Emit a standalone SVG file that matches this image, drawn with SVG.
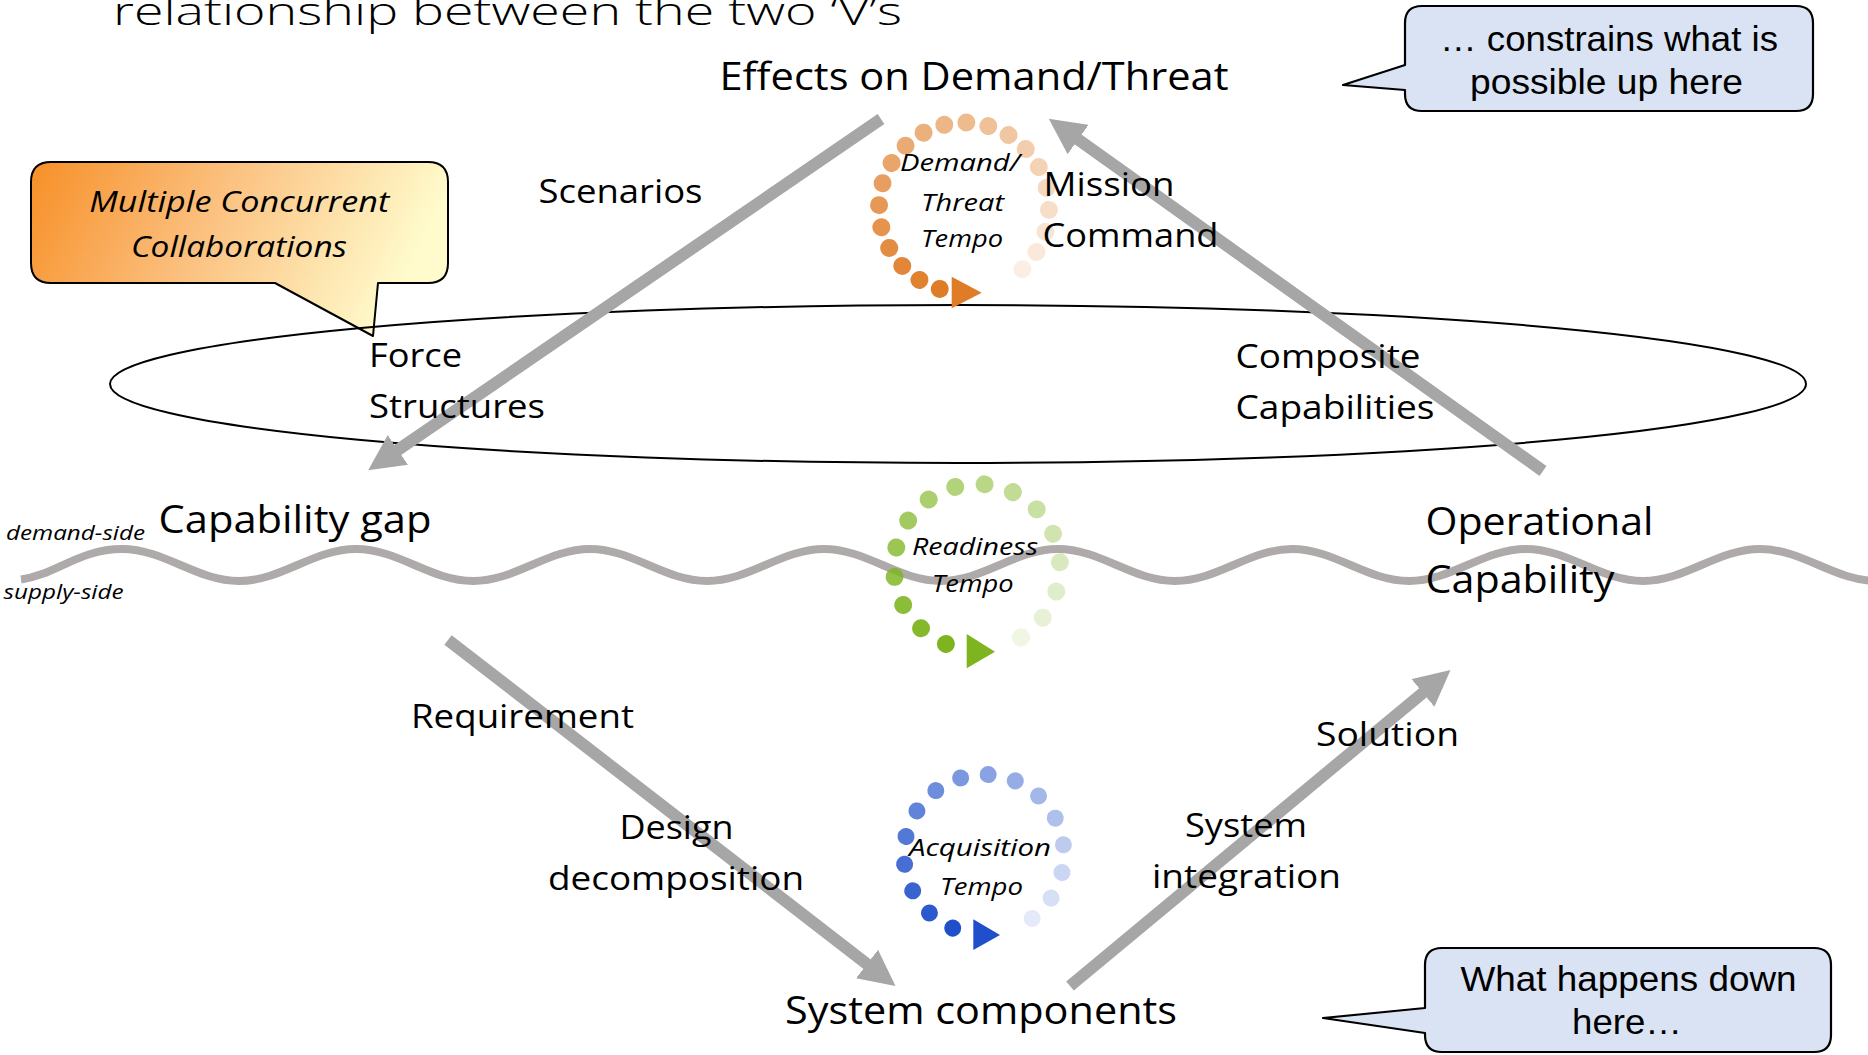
<svg xmlns="http://www.w3.org/2000/svg" width="1868" height="1055" viewBox="0 0 1868 1055">
  <defs>
    <style>
      .lbl { font-family: "Open Sans", "Noto Sans", sans-serif; fill: #000; }
      .a { font-size: 33px; }
      .b { font-size: 38px; }
      .it { font-style: italic; }
      .tempo { font-family: "Open Sans", "Noto Sans", sans-serif; font-style: italic; font-size: 24.5px; fill: #000; }
      .side { font-family: "Open Sans", "Noto Sans", sans-serif; font-style: italic; font-size: 20.5px; fill: #000; }
      .note { font-family: "Liberation Sans", Arial, sans-serif; font-size: 35px; fill: #000; text-anchor: middle; }
      .bubble { fill: #dae3f3; stroke: #000; stroke-width: 2.2; stroke-linejoin: round; }
      .conn { fill: none; stroke: #a6a6a6; stroke-width: 12; marker-end: url(#ah); }
    </style>
    <marker id="ah" viewBox="0 0 3 3" refX="0.05" refY="1.5" markerWidth="3" markerHeight="3" orient="auto" markerUnits="strokeWidth">
      <path d="M0,0 L3,1.5 L0,3 Z" fill="#a6a6a6"/>
    </marker>
    <linearGradient id="fire" gradientUnits="userSpaceOnUse" x1="40" y1="165" x2="380" y2="330">
      <stop offset="0" stop-color="#f7922c"/>
      <stop offset="0.45" stop-color="#fbbf7d"/>
      <stop offset="1" stop-color="#fffbcc"/>
    </linearGradient>
  </defs>

  <!-- heading, partly above the top edge -->
  <text x="113" y="25" class="lbl" font-weight="300" font-size="39" textLength="789" lengthAdjust="spacingAndGlyphs">relationship between the two ‘V’s</text>

  <!-- collaboration callout -->
  <g id="collab-callout">
    <path d="M51,162 H428 Q448,162 448,182 V263 Q448,283 428,283 H378 L373,336 L275,283 H51 Q31,283 31,263 V182 Q31,162 51,162 Z" fill="url(#fire)" stroke="#000" stroke-width="2" stroke-linejoin="round"/>
    <text x="239.3" y="212.3" class="lbl it" font-size="28.5" text-anchor="middle" textLength="300" lengthAdjust="spacingAndGlyphs">Multiple Concurrent</text>
    <text x="239" y="256.7" class="lbl it" font-size="28.5" text-anchor="middle" textLength="216" lengthAdjust="spacingAndGlyphs">Collaborations</text>
  </g>

  <!-- collaboration ring -->
  <g id="ring">
    <ellipse cx="958" cy="384" rx="848" ry="79" fill="none" stroke="#000" stroke-width="2"/>
  </g>

  <!-- demand / supply boundary -->
  <g id="boundary">
    <path d="M21,579.5 C55,575 79.5,549 122,549 S196.5,581 239,581 S313.5,549 356,549 S430.5,581 473,581 S547.5,549 590,549 S664.5,581 707,581 S781.5,549 824,549 S898.5,581 941,581 S1015.5,549 1058,549 S1132.5,581 1175,581 S1249.5,549 1292,549 S1366.5,581 1409,581 S1483.5,549 1526,549 S1600.5,581 1643,581 S1717.5,549 1760,549 S1834.5,581 1877,581" fill="none" stroke="#aeaaaa" stroke-width="8"/>
    <text x="6" y="539.5" class="side" textLength="139" lengthAdjust="spacingAndGlyphs">demand-side</text>
    <text x="3.6" y="599" class="side" textLength="120" lengthAdjust="spacingAndGlyphs">supply-side</text>
  </g>

  <!-- demand/threat tempo spinner -->
  <g id="tempo-demand" fill="#df7c27">
    <circle cx="1049" cy="207.5" r="9" transform="rotate(106.6 964 207.5)"/>
    <circle cx="1049" cy="207.5" r="9" transform="rotate(121.6 964 207.5)" fill-opacity="0.956"/>
    <circle cx="1049" cy="207.5" r="9" transform="rotate(136.6 964 207.5)" fill-opacity="0.912"/>
    <circle cx="1049" cy="207.5" r="9" transform="rotate(151.6 964 207.5)" fill-opacity="0.868"/>
    <circle cx="1049" cy="207.5" r="9" transform="rotate(166.6 964 207.5)" fill-opacity="0.824"/>
    <circle cx="1049" cy="207.5" r="9" transform="rotate(181.6 964 207.5)" fill-opacity="0.78"/>
    <circle cx="1049" cy="207.5" r="9" transform="rotate(196.6 964 207.5)" fill-opacity="0.736"/>
    <circle cx="1049" cy="207.5" r="9" transform="rotate(211.6 964 207.5)" fill-opacity="0.692"/>
    <circle cx="1049" cy="207.5" r="9" transform="rotate(226.6 964 207.5)" fill-opacity="0.648"/>
    <circle cx="1049" cy="207.5" r="9" transform="rotate(241.6 964 207.5)" fill-opacity="0.604"/>
    <circle cx="1049" cy="207.5" r="9" transform="rotate(256.6 964 207.5)" fill-opacity="0.56"/>
    <circle cx="1049" cy="207.5" r="9" transform="rotate(271.6 964 207.5)" fill-opacity="0.516"/>
    <circle cx="1049" cy="207.5" r="9" transform="rotate(286.6 964 207.5)" fill-opacity="0.472"/>
    <circle cx="1049" cy="207.5" r="9" transform="rotate(301.6 964 207.5)" fill-opacity="0.428"/>
    <circle cx="1049" cy="207.5" r="9" transform="rotate(316.6 964 207.5)" fill-opacity="0.384"/>
    <circle cx="1049" cy="207.5" r="9" transform="rotate(331.6 964 207.5)" fill-opacity="0.34"/>
    <circle cx="1049" cy="207.5" r="9" transform="rotate(346.6 964 207.5)" fill-opacity="0.296"/>
    <circle cx="1049" cy="207.5" r="9" transform="rotate(361.6 964 207.5)" fill-opacity="0.252"/>
    <circle cx="1049" cy="207.5" r="9" transform="rotate(376.6 964 207.5)" fill-opacity="0.208"/>
    <circle cx="1049" cy="207.5" r="9" transform="rotate(391.6 964 207.5)" fill-opacity="0.164"/>
    <circle cx="1049" cy="207.5" r="9" transform="rotate(406.6 964 207.5)" fill-opacity="0.12"/>
    <path d="M951.7,276.7 L981.7,292.7 L951.7,308.3 Z"/>
    <text x="900" y="170.5" class="tempo" textLength="120" lengthAdjust="spacingAndGlyphs">Demand/</text>
    <text x="921" y="210.7" class="tempo" textLength="83" lengthAdjust="spacingAndGlyphs">Threat</text>
    <text x="921" y="246.7" class="tempo" textLength="82" lengthAdjust="spacingAndGlyphs">Tempo</text>
  </g>

  <!-- readiness tempo spinner -->
  <g id="tempo-readiness" fill="#7db41f">
    <circle cx="1060" cy="567" r="9" transform="rotate(112 977 567)"/>
    <circle cx="1060" cy="567" r="9" transform="rotate(132.4 977 567)" fill-opacity="0.941"/>
    <circle cx="1060" cy="567" r="9" transform="rotate(152.8 977 567)" fill-opacity="0.883"/>
    <circle cx="1060" cy="567" r="9" transform="rotate(173.2 977 567)" fill-opacity="0.824"/>
    <circle cx="1060" cy="567" r="9" transform="rotate(193.6 977 567)" fill-opacity="0.765"/>
    <circle cx="1060" cy="567" r="9" transform="rotate(214 977 567)" fill-opacity="0.707"/>
    <circle cx="1060" cy="567" r="9" transform="rotate(234.4 977 567)" fill-opacity="0.648"/>
    <circle cx="1060" cy="567" r="9" transform="rotate(254.8 977 567)" fill-opacity="0.589"/>
    <circle cx="1060" cy="567" r="9" transform="rotate(275.2 977 567)" fill-opacity="0.531"/>
    <circle cx="1060" cy="567" r="9" transform="rotate(295.6 977 567)" fill-opacity="0.472"/>
    <circle cx="1060" cy="567" r="9" transform="rotate(316 977 567)" fill-opacity="0.413"/>
    <circle cx="1060" cy="567" r="9" transform="rotate(336.4 977 567)" fill-opacity="0.355"/>
    <circle cx="1060" cy="567" r="9" transform="rotate(356.8 977 567)" fill-opacity="0.296"/>
    <circle cx="1060" cy="567" r="9" transform="rotate(377.2 977 567)" fill-opacity="0.237"/>
    <circle cx="1060" cy="567" r="9" transform="rotate(397.6 977 567)" fill-opacity="0.179"/>
    <circle cx="1060" cy="567" r="9" transform="rotate(418 977 567)" fill-opacity="0.12"/>
    <path d="M966.7,634 L995,651.7 L966.7,668.3 Z"/>
    <text x="912" y="555" class="tempo" textLength="126" lengthAdjust="spacingAndGlyphs">Readiness</text>
    <text x="931.7" y="591.7" class="tempo" textLength="82" lengthAdjust="spacingAndGlyphs">Tempo</text>
  </g>

  <!-- acquisition tempo spinner -->
  <g id="tempo-acquisition" fill="#1f4fca">
    <circle cx="1064" cy="854.5" r="8.5" transform="rotate(113 984 854.5)"/>
    <circle cx="1064" cy="854.5" r="8.5" transform="rotate(133 984 854.5)" fill-opacity="0.941"/>
    <circle cx="1064" cy="854.5" r="8.5" transform="rotate(153 984 854.5)" fill-opacity="0.883"/>
    <circle cx="1064" cy="854.5" r="8.5" transform="rotate(173 984 854.5)" fill-opacity="0.824"/>
    <circle cx="1064" cy="854.5" r="8.5" transform="rotate(193 984 854.5)" fill-opacity="0.765"/>
    <circle cx="1064" cy="854.5" r="8.5" transform="rotate(213 984 854.5)" fill-opacity="0.707"/>
    <circle cx="1064" cy="854.5" r="8.5" transform="rotate(233 984 854.5)" fill-opacity="0.648"/>
    <circle cx="1064" cy="854.5" r="8.5" transform="rotate(253 984 854.5)" fill-opacity="0.589"/>
    <circle cx="1064" cy="854.5" r="8.5" transform="rotate(273 984 854.5)" fill-opacity="0.531"/>
    <circle cx="1064" cy="854.5" r="8.5" transform="rotate(293 984 854.5)" fill-opacity="0.472"/>
    <circle cx="1064" cy="854.5" r="8.5" transform="rotate(313 984 854.5)" fill-opacity="0.413"/>
    <circle cx="1064" cy="854.5" r="8.5" transform="rotate(333 984 854.5)" fill-opacity="0.355"/>
    <circle cx="1064" cy="854.5" r="8.5" transform="rotate(353 984 854.5)" fill-opacity="0.296"/>
    <circle cx="1064" cy="854.5" r="8.5" transform="rotate(373 984 854.5)" fill-opacity="0.237"/>
    <circle cx="1064" cy="854.5" r="8.5" transform="rotate(393 984 854.5)" fill-opacity="0.179"/>
    <circle cx="1064" cy="854.5" r="8.5" transform="rotate(413 984 854.5)" fill-opacity="0.12"/>
    <path d="M973.3,919.3 L1000,935 L973.3,950 Z"/>
    <text x="909" y="856" class="tempo" textLength="142" lengthAdjust="spacingAndGlyphs">Acquisition</text>
    <text x="940" y="895" class="tempo" textLength="83" lengthAdjust="spacingAndGlyphs">Tempo</text>
  </g>

  <!-- V-model arrows -->
  <g id="connectors">
    <path class="conn" d="M881,119 L397.4,450.3"/>
    <path class="conn" d="M1543,471 L1077.6,139.2"/>
    <path class="conn" d="M448,640 L867.5,964.4"/>
    <path class="conn" d="M1070,986 L1423.3,692.5"/>
  </g>

  <g id="effects"><text x="719.5" y="90" class="lbl b" textLength="509" lengthAdjust="spacingAndGlyphs">Effects on Demand/Threat</text></g>
  <g id="scenarios"><text x="538.5" y="203" class="lbl a" textLength="164" lengthAdjust="spacingAndGlyphs">Scenarios</text></g>
  <g id="mission-command">
    <text x="1043.6" y="195.5" class="lbl a" textLength="131" lengthAdjust="spacingAndGlyphs">Mission</text>
    <text x="1042.5" y="246.7" class="lbl a" textLength="176" lengthAdjust="spacingAndGlyphs">Command</text>
  </g>
  <g id="force-structures">
    <text x="369" y="367" class="lbl a" textLength="93" lengthAdjust="spacingAndGlyphs">Force</text>
    <text x="369" y="418" class="lbl a" textLength="176" lengthAdjust="spacingAndGlyphs">Structures</text>
  </g>
  <g id="composite-capabilities">
    <text x="1235.5" y="368" class="lbl a" textLength="185" lengthAdjust="spacingAndGlyphs">Composite</text>
    <text x="1235.5" y="419" class="lbl a" textLength="199" lengthAdjust="spacingAndGlyphs">Capabilities</text>
  </g>
  <g id="capability-gap"><text x="158.5" y="532.5" class="lbl b" textLength="273" lengthAdjust="spacingAndGlyphs">Capability gap</text></g>
  <g id="operational-capability">
    <text x="1425.5" y="535" class="lbl b" textLength="228" lengthAdjust="spacingAndGlyphs">Operational</text>
    <text x="1425.5" y="592.5" class="lbl b" textLength="189" lengthAdjust="spacingAndGlyphs">Capability</text>
  </g>
  <g id="requirement"><text x="411" y="728" class="lbl a" textLength="223" lengthAdjust="spacingAndGlyphs">Requirement</text></g>
  <g id="design-decomposition">
    <text x="619.5" y="838.5" class="lbl a" textLength="114" lengthAdjust="spacingAndGlyphs">Design</text>
    <text x="548" y="889.5" class="lbl a" textLength="256" lengthAdjust="spacingAndGlyphs">decomposition</text>
  </g>
  <g id="system-integration">
    <text x="1185" y="837" class="lbl a" textLength="122" lengthAdjust="spacingAndGlyphs">System</text>
    <text x="1152" y="887.5" class="lbl a" textLength="189" lengthAdjust="spacingAndGlyphs">integration</text>
  </g>
  <g id="solution"><text x="1316" y="745.5" class="lbl a" textLength="143" lengthAdjust="spacingAndGlyphs">Solution</text></g>
  <g id="system-components"><text x="785" y="1024" class="lbl b" textLength="392" lengthAdjust="spacingAndGlyphs">System components</text></g>

  <!-- explanatory bubbles -->
  <g id="note-up">
    <path class="bubble" d="M1422,6 H1796 Q1813,6 1813,23 V94 Q1813,111 1796,111 H1422 Q1405,111 1405,94 V90 L1343,85 L1405,65 V23 Q1405,6 1422,6 Z"/>
    <text x="1609" y="50.5" class="note" textLength="338" lengthAdjust="spacingAndGlyphs">… constrains what is</text>
    <text x="1606.5" y="94" class="note" textLength="273" lengthAdjust="spacingAndGlyphs">possible up here</text>
  </g>
  <g id="note-down">
    <path class="bubble" d="M1442,948 H1814 Q1831,948 1831,965 V1035 Q1831,1052 1814,1052 H1442 Q1425,1052 1425,1035 V1033 L1323,1018 L1425,1008 V965 Q1425,948 1442,948 Z"/>
    <text x="1628.5" y="991" class="note" textLength="336" lengthAdjust="spacingAndGlyphs">What happens down</text>
    <text x="1627" y="1034" class="note" textLength="110" lengthAdjust="spacingAndGlyphs">here…</text>
  </g>
</svg>
